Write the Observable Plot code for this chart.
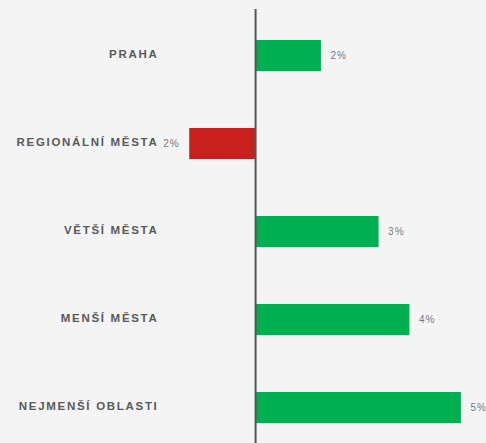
<!DOCTYPE html>
<html>
<head>
<meta charset="utf-8">
<script src="https://cdn.jsdelivr.net/npm/d3@7"></script>
<script src="https://cdn.jsdelivr.net/npm/@observablehq/plot@0.6"></script>
<style>
  html, body { margin: 0; padding: 0; background: #f4f4f4; }
  #chart svg { display: block; }
  #chart svg g[aria-label="y-axis tick label"] text { letter-spacing: 1.7px; }
  #chart svg g[aria-label="text"] text { letter-spacing: 1px; }
</style>
</head>
<body>
<div id="chart"></div>
<script>
const categories = ["PRAHA", "REGIONÁLNÍ MĚSTA", "VĚTŠÍ MĚSTA", "MENŠÍ MĚSTA", "NEJMENŠÍ OBLASTI"];
const values = [1.6, -1.6, 3.0, 3.75, 5.0];
const valueLabels = ["2%", "2%", "3%", "4%", "5%"];

const data = categories.map((c, i) => ({category: c, value: values[i], label: valueLabels[i]}));
const GREEN = "#00b050", RED = "#c8201f";

const chart = Plot.plot({
  width: 486,
  height: 443,
  marginTop: 9,
  marginBottom: 0,
  marginLeft: 160,
  marginRight: 0,
  style: {background: "transparent", fontFamily: "Liberation Sans, Arial, sans-serif"},
  x: {domain: [-2.31, 5.61], axis: null},
  y: {domain: categories, padding: 0.65, paddingOuter: 0.27, align: 0.6, label: null},
  marks: [
    Plot.axisY({tickSize: 0, tickPadding: 0, fontSize: 11.5, fontWeight: "bold", fill: "#595959", label: null, dx: -2, dy: -2}),
    Plot.barX(data, {x: "value", y: "category", fill: d => d.value < 0 ? RED : GREEN}),
    Plot.ruleX([0], {stroke: "#555", strokeWidth: 2}),
    Plot.text(data.filter(d => d.value >= 0), {x: "value", y: "category", text: "label", textAnchor: "start", dx: 9, fontSize: 10, fill: "#7a7a7a"}),
    Plot.text(data.filter(d => d.value < 0), {x: "value", y: "category", text: "label", textAnchor: "end", dx: -10, fontSize: 10, fill: "#7a7a7a"})
  ]
});
document.getElementById("chart").appendChild(chart);
</script>
</body>
</html>
